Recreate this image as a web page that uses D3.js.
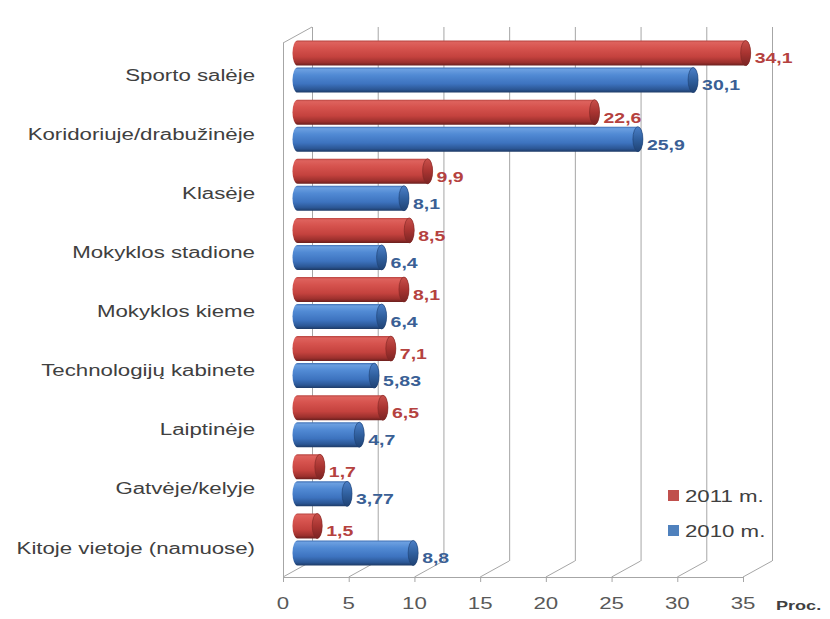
<!DOCTYPE html>
<html><head><meta charset="utf-8">
<script src="https://cdn.jsdelivr.net/npm/d3@7"></script>
<style>body{margin:0;background:#fff}svg{display:block}</style>
</head><body><svg id="chart" width="830" height="619"></svg>
<script>
const categories = ["Sporto salėje","Koridoriuje/drabužinėje","Klasėje","Mokyklos stadione","Mokyklos kieme","Technologijų kabinete","Laiptinėje","Gatvėje/kelyje","Kitoje vietoje (namuose)"];
const values2011 = [34.1,22.6,9.9,8.5,8.1,7.1,6.5,1.7,1.5];
const values2010 = [30.1,25.9,8.1,6.4,6.4,5.83,4.7,3.77,8.8];
const seriesNames = ["2011 m.","2010 m."];
const tickValues = [0,5,10,15,20,25,30,35];
const axisUnit = "Proc.";

const svg = d3.select("#chart");
const depthX = 29, depthY = -16;
const xFront = d3.scaleLinear().domain([0,35]).range([283,743]);
const xBack = v => xFront(v) + depthX;
const xBar = v => xFront(v) + depthX/2;
const floorY = 577, topFront = 43;
const y = d3.scaleBand().domain(categories).range([37,569]);
const barH = 25, gap = 1, capRx = 5;
const SX = 1.39;
const font = "'Liberation Sans', Arial, sans-serif";
const gridColor = "#a6a6a6";

// gradients
const defs = svg.append("defs");
function grad(id, stops){
  const g = defs.append("linearGradient").attr("id",id).attr("x1",0).attr("y1",0).attr("x2",0).attr("y2",1);
  stops.forEach(s=>g.append("stop").attr("offset",s[0]).attr("stop-color",s[1]));
}
grad("gRed",[[0,"#b84541"],[0.08,"#de625d"],[0.3,"#d6534e"],[0.65,"#c4423e"],[0.88,"#9c302d"],[1,"#6a1f1e"]]);
grad("gBlue",[[0,"#3f6fb3"],[0.08,"#6b9fe0"],[0.3,"#518ad4"],[0.65,"#3d73bf"],[0.88,"#2b5694"],[1,"#1d3a66"]]);
grad("cRed",[[0,"#c9504b"],[0.5,"#a93431"],[1,"#7a2423"]]);
grad("cBlue",[[0,"#4c80c8"],[0.5,"#30609f"],[1,"#1f4274"]]);

// grid: back wall verticals, floor obliques, front ticks
const grid = svg.append("g").attr("stroke",gridColor).attr("stroke-width",1).attr("fill","none");
tickValues.forEach(t=>{
  grid.append("line").attr("x1",xBack(t)+0.5).attr("x2",xBack(t)+0.5)
    .attr("y1",floorY+depthY).attr("y2",topFront+depthY);
  grid.append("line").attr("x1",xFront(t)).attr("y1",floorY)
    .attr("x2",xBack(t)).attr("y2",floorY+depthY);
  grid.append("line").attr("x1",xFront(t)+0.5).attr("x2",xFront(t)+0.5)
    .attr("y1",floorY).attr("y2",floorY+5);
});
grid.append("line").attr("x1",xFront(0)).attr("x2",xFront(35)).attr("y1",floorY+0.5).attr("y2",floorY+0.5);
// left wall
grid.append("line").attr("x1",xFront(0)+0.5).attr("x2",xFront(0)+0.5).attr("y1",topFront).attr("y2",floorY);
grid.append("line").attr("x1",xFront(0)).attr("y1",topFront).attr("x2",xBack(0)).attr("y2",topFront+depthY);

// bars (cylinders)
function cyl(x0,x1,yt,h){
  const r=h/2;
  return `M${x0},${yt} L${x1},${yt} A${capRx},${r} 0 0 1 ${x1},${yt+h} L${x0},${yt+h} A${capRx},${r} 0 0 1 ${x0},${yt} Z`;
}
const series = [
  {name:seriesNames[0], values:values2011, body:"url(#gRed)", cap:"url(#cRed)", capStroke:"#7d2624", label:"#b5423f", off:-gap-barH},
  {name:seriesNames[1], values:values2010, body:"url(#gBlue)", cap:"url(#cBlue)", capStroke:"#1f3f70", label:"#3a5f95", off:gap}
];
const bars = svg.append("g");
const labels = svg.append("g");
series.forEach(s=>{
  categories.forEach((c,i)=>{
    const v = s.values[i];
    const cy = y(c) + y.bandwidth()/2;
    const yt = cy + s.off;
    const x0 = xBar(0), x1 = xBar(v);
    bars.append("path").attr("d",cyl(x0,x1,yt,barH)).attr("fill",s.body);
    bars.append("ellipse").attr("cx",x1).attr("cy",yt+barH/2).attr("rx",capRx).attr("ry",barH/2)
      .attr("fill",s.cap).attr("stroke",s.capStroke).attr("stroke-width",0.6);
    labels.append("text")
      .attr("transform",`translate(${x1+capRx+4},${yt+barH/2+5.5}) scale(${SX},1)`)
      .attr("dy","0.35em").attr("font-family",font).attr("font-weight","bold")
      .attr("font-size",14).attr("fill",s.label)
      .text(String(v).replace(".",","));
  });
});

// category labels
svg.append("g").selectAll("text").data(categories).join("text")
  .attr("transform",c=>`translate(255,${y(c)+y.bandwidth()/2+8.5}) scale(${SX},1)`)
  .attr("dy","0.35em").attr("text-anchor","end")
  .attr("font-family",font).attr("font-size",16).attr("fill","#404040")
  .text(c=>c);

// x tick labels
svg.append("g").selectAll("text").data(tickValues).join("text")
  .attr("transform",t=>`translate(${xFront(t)},609) scale(${SX},1)`)
  .attr("text-anchor","middle").attr("font-family",font).attr("font-size",16).attr("fill","#595959")
  .text(t=>t);
svg.append("text").attr("transform",`translate(776,610) scale(${SX},1)`)
  .attr("font-family",font).attr("font-weight","bold").attr("font-size",13).attr("fill","#404040")
  .text(axisUnit);

// legend
const legend = svg.append("g");
[{name:seriesNames[0],color:"#c0504d",y:490},{name:seriesNames[1],color:"#4f81bd",y:525}].forEach(d=>{
  legend.append("rect").attr("x",668).attr("y",d.y).attr("width",11).attr("height",11).attr("fill",d.color);
  legend.append("text").attr("transform",`translate(685,${d.y+12}) scale(${SX},1)`)
    .attr("font-family",font).attr("font-size",16).attr("fill","#404040").text(d.name);
});
</script></body></html>
